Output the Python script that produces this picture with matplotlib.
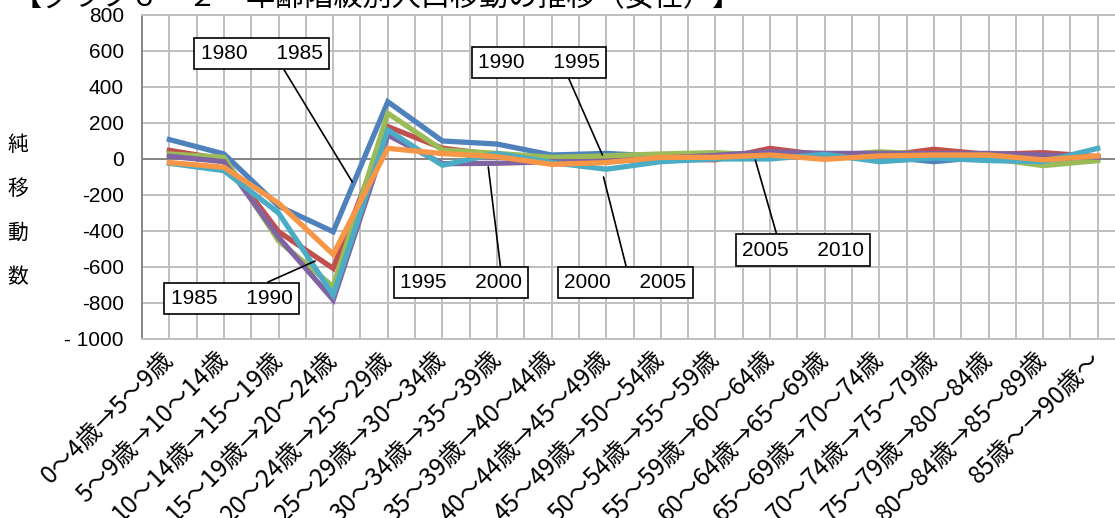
import numpy as np
import matplotlib
matplotlib.use('Agg')
import matplotlib.pyplot as plt

plt.rcParams['font.family'] = ['Liberation Sans', 'Noto Sans CJK JP', 'DejaVu Sans']

# 年齢階級（移動前→移動後）
kategorii = ['0～4歳→5～9歳', '5～9歳→10～14歳', '10～14歳→15～19歳', '15～19歳→20～24歳',
             '20～24歳→25～29歳', '25～29歳→30～34歳', '30～34歳→35～39歳', '35～39歳→40～44歳',
             '40～44歳→45～49歳', '45～49歳→50～54歳', '50～54歳→55～59歳', '55～59歳→60～64歳',
             '60～64歳→65～69歳', '65～69歳→70～74歳', '70～74歳→75～79歳', '75～79歳→80～84歳',
             '80～84歳→85～89歳', '85歳～→90歳～']

# 純移動数（読み取り値）
s1980 = [108, 28, -262, -404, 318, 100, 83, 22, 31, 15, 20, 20, 15, 15, -15, 13, -2, 4]
s1985 = [48, -2, -404, -608, 180, 60, 22, -5, -5, 0, -5, 59, 20, 15, 54, 25, 35, 13]
s1990 = [28, 9, -455, -709, 254, 50, 31, 9, 17, 28, 35, 20, 15, 40, 25, 4, -37, -9]
s1995 = [15, -15, -435, -783, 133, -26, -24, -15, -15, 5, 20, 40, 31, 31, 30, 31, 22, 10]
s2000 = [-24, -65, -300, -756, 161, -35, 31, -20, -57, -15, 0, 0, 26, -15, 5, -9, -15, 59]
s2005 = [-20, -46, -246, -530, 59, 30, 13, -30, -20, 9, 9, 22, -2, 17, 22, 22, -5, 17]

serii = [s1980, s1985, s1990, s1995, s2000, s2005]
cveta = ['#4F81BD', '#C0504D', '#9BBB59', '#8064A2', '#4BACC6', '#F79646']

# подписи-выноски: текст, точка на линии, центр рамки, точка выхода линии из рамки
vynoski = [
    ('1980     1985', (3.35, -128), (1.69, 586), (0.65, 0.0)),
    ('1985     1990', (2.67, -567), (1.14, -775), (0.67, 1.0)),
    ('1990     1995', (7.93, 22), (6.77, 536), (0.72, 0.0)),
    ('1995     2000', (5.84, -44), (5.34, -686), (0.83, 1.0)),
    ('2000     2005', (7.95, -100), (8.35, -686), (0.52, 1.0)),
    ('2005     2010', (10.73, -6), (11.6, -506), (0.3, 1.0)),
]

fig = plt.figure(figsize=(11.15, 5.18), dpi=100)
ax = fig.add_axes([0.1274, 0.3456, 0.8816, 0.6255])

x = np.arange(len(kategorii))
for s, c in zip(serii, cveta):
    ax.plot(x, s, color=c, lw=3.8, solid_joinstyle='miter', zorder=3)

ax.set_xlim(-0.5, len(kategorii) - 0.5)
ax.set_ylim(-1000, 800)
ax.set_yticks(range(-1000, 801, 200))
ax.set_yticklabels([str(v) if v > -1000 else '- 1000' for v in range(-1000, 801, 200)])
ax.set_xticks(x)
ax.set_xticklabels(kategorii, rotation=45, ha='right', va='center', rotation_mode='anchor',
                   family=['Noto Sans CJK JP', 'DejaVu Sans'])
ax.xaxis.set_minor_locator(plt.FixedLocator(np.arange(-0.5, len(kategorii), 1)))

ax.grid(True, which='both', axis='x', color='#BFBFBF', lw=1.4)
ax.grid(True, which='major', axis='y', color='#BFBFBF', lw=1.4)
ax.set_axisbelow(True)
ax.axhline(0, color='#868686', lw=1.4, zorder=2)

ax.tick_params(axis='y', length=0, pad=13, labelsize=15)
ax.tick_params(axis='x', which='both', length=0, pad=12, labelsize=17.5)
ax.spines['left'].set_color('#868686')
ax.spines['left'].set_linewidth(1.4)
for sp in ['top', 'bottom', 'right']:
    ax.spines[sp].set_color('#BFBFBF')
    ax.spines[sp].set_linewidth(1.4)

for tekst, tochka, ramka, rp in vynoski:
    ax.annotate(tekst, xy=tochka, xytext=ramka, textcoords='data',
                ha='center', va='center', fontsize=15, zorder=5,
                bbox=dict(boxstyle='square,pad=0.3', fc='white', ec='black', lw=1.2),
                arrowprops=dict(arrowstyle='-', color='black', lw=1.2,
                                shrinkA=0, shrinkB=0, relpos=rp))

# подпись оси Y по одному знаку
for i, ch in enumerate('純移動数'):
    fig.text(18 / 1115, 1 - (145 + i * 44) / 518, ch, fontsize=15,
             ha='center', va='center')

fig.text(0.012, 1.006, '【グラフ６－２　年齢階級別人口移動の推移（女性）】',
         fontsize=21, ha='left', va='center')

fig.savefig('out.png', dpi=100)
